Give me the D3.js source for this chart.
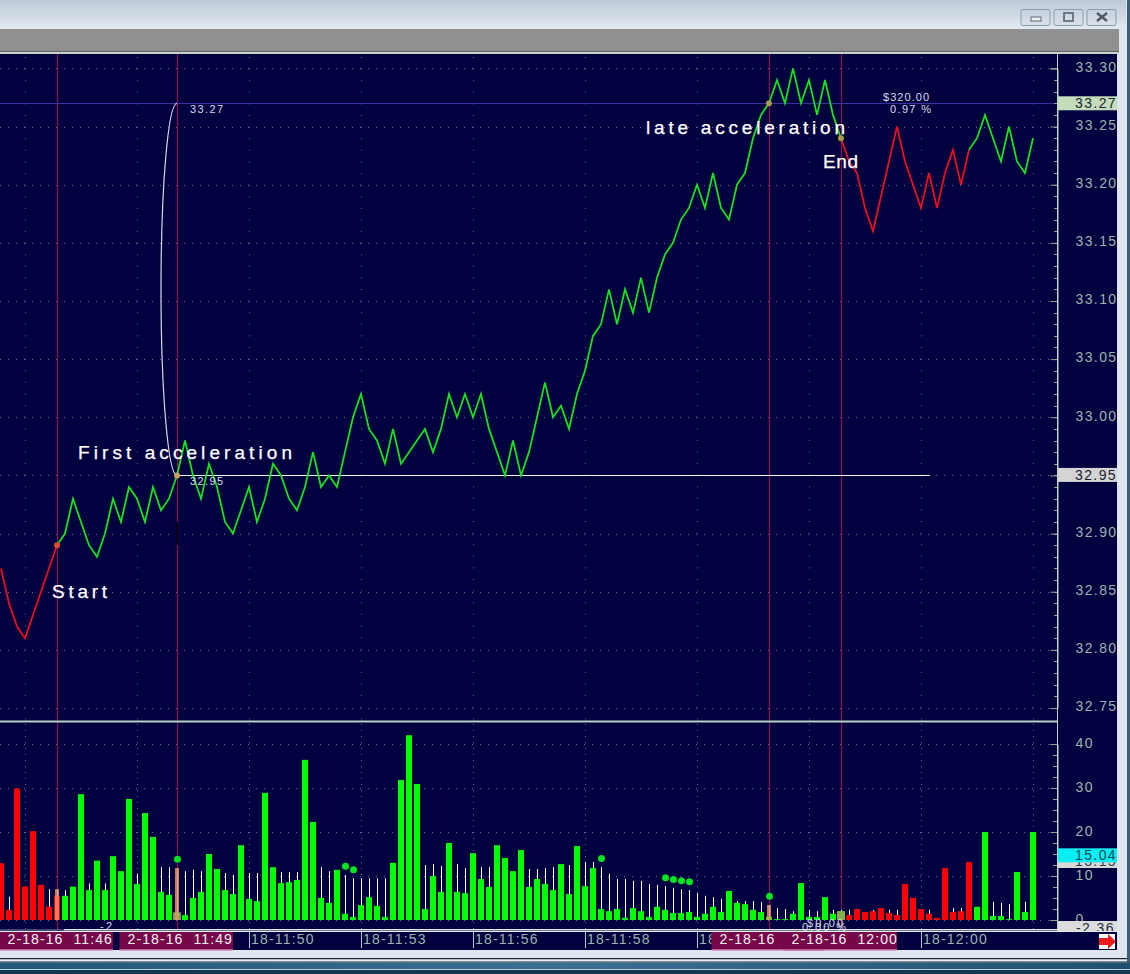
<!DOCTYPE html>
<html>
<head>
<meta charset="utf-8">
<script src="https://cdn.jsdelivr.net/npm/d3@7"></script>
<style>
html, body { margin: 0; padding: 0; background: #1f4a68; overflow: hidden; }
svg { display: block; }
text { font-family: "Liberation Sans", Arial, sans-serif; white-space: pre; }
</style>
</head>
<body>
<svg id="chart"></svg>
<script>
const prices = [
  32.87, 32.84, 32.82, 32.81, 32.83, 32.85, 32.87, 32.89,
  32.90, 32.93, 32.91, 32.89, 32.88, 32.90, 32.93, 32.91, 32.94, 32.93, 32.91, 32.94, 32.92, 32.93,
  32.95, 32.98, 32.95, 32.93, 32.96, 32.94, 32.91, 32.90, 32.92, 32.94, 32.91, 32.93, 32.96, 32.95, 32.93, 32.92, 32.94, 32.97, 32.94, 32.95, 32.94,
  32.97, 33.00, 33.02, 32.99, 32.98, 32.96, 32.99, 32.96, 32.97, 32.98, 32.99, 32.97, 32.99, 33.02, 33.00, 33.02, 33.00, 33.02, 32.99, 32.97, 32.95, 32.98, 32.95, 32.97, 33.00, 33.03, 33.00, 33.01, 32.99, 33.02, 33.04, 33.07, 33.08, 33.11, 33.08, 33.11, 33.09, 33.12, 33.09,
  33.12, 33.14, 33.15, 33.17, 33.18, 33.20, 33.18, 33.21, 33.18, 33.17, 33.20, 33.21, 33.24, 33.26, 33.27,
  33.29, 33.27, 33.30, 33.27, 33.29, 33.26, 33.29, 33.26, 33.24,
  33.22, 33.21, 33.18, 33.16, 33.19, 33.22, 33.25, 33.22, 33.20, 33.18, 33.21, 33.18, 33.21, 33.23, 33.20, 33.23,
  33.24, 33.26, 33.24, 33.22, 33.25, 33.22, 33.21, 33.24
];

const volumes = [
  12.9, 2.3, 29.9, 7.6, 20.2, 8, 3, 5.5,
  5.5, 7.6, 28.6, 6.8, 13.5, 6.8, 14.5, 11.1, 27.5, 8.2, 24.3, 18.9, 6.4, 5.7, 1.7,
  1.1, 5, 6.4, 15, 11.6, 6.8, 5.9, 17, 4.8, 4.3, 28.9, 12, 8.4, 8.6, 9.1, 36.4, 22.3, 5, 3.9, 11.4, 1.4, 0.7, 3.4, 5.2, 3.2,
  0.7, 13, 31.8, 42, 30.9, 2.5, 10, 6.4, 17.5, 6.4, 6.1, 15.2, 9.3, 7.5, 17, 14.1, 11.1, 15.9, 7.5, 9.3, 8.2, 6.8, 12.7, 5.9, 16.8, 7.7, 11.8, 2.5, 2, 2.5, 0.5, 2.7, 2, 0.7, 3, 2.3, 1.6, 1.6, 1.8, 0.7, 1.4, 3, 1.8, 6.6, 3.9, 3.6,
  2.3, 1.8, 0.7, 0.2, 0.2, 1.4, 8.4, 0.7, 0.7, 5.2, 1.4, 2,
  1.1, 2.5, 1.8, 2, 2.7, 1.6, 1.1, 8.2, 5, 2.5, 1.4, 0.5, 11.8, 1.8, 2, 13.2,
  3, 20, 0.9, 0.9, 0.2, 10.9, 1.8, 20
];

// thin white lines above the bars, 0 = none
const whiskers = [
  0, 5.3, 0, 0, 0, 0, 7, 7,
  6.8, 0, 0, 8.3, 0, 8.3, 0, 0, 0, 10.5, 0, 0, 12, 12, 11.8,
  11.1, 11.4, 11.1, 0, 0, 10.7, 10.2, 0, 10.7, 10.7, 0, 0, 10.9, 10.9, 10.9, 0, 0, 12, 11.1, 0, 10.2, 9.5, 9.5, 9.5, 9.5,
  9.5, 0, 0, 0, 0, 12.5, 12.7, 12.3, 0, 12.7, 11.8, 0, 12, 12, 0, 0, 0, 0, 11.6, 11.6, 11.8, 12, 0, 12.5, 0, 13.2, 13.2, 12, 10.5, 9.3, 9.3, 8.9, 8.9, 8.2, 8, 7.7, 7.3, 7, 6.8, 6.1, 5.5, 5.2, 4.8, 0, 4.3, 4.3,
  4.3, 4.1, 3.4, 2.7, 2.5, 2, 0, 2.3, 2, 0, 2.3, 2.3,
  2.3, 0, 0, 2.3, 0, 2.3, 2.3, 0, 0, 2.5, 2.3, 0, 0, 2.7, 2.7, 0,
  3, 0, 4.1, 3.9, 3.6, 0, 4.1, 0
];

const dotIndex = [22, 43, 44, 75, 83, 84, 85, 86, 96];
const dotValue = [13.8, 12.2, 11.4, 14, 9.6, 9.2, 8.9, 8.7, 5.4];

const priceTicks = [32.75, 32.80, 32.85, 32.90, 32.95, 33.00, 33.05, 33.10, 33.15, 33.20, 33.25, 33.30];
const volumeTicks = [0, 10, 20, 30, 40];
const gridIndex = [3, 17, 31, 45, 59, 73, 87, 101, 115, 129];

const timeIndex = [31, 45, 59, 73, 87, 115];
const timeLabels = ["18-11:50", "18-11:53", "18-11:56", "18-11:58", "18", "18-12:00"];

const markIndex = [7, 22, 96, 105];
const markColor = ["#e04a30", "#c8a060", "#a89a50", "#a0a040"];
const markLabels = ["2-18-16  11:46", "2-18-16  11:49", "2-18-16", "2-18-16  12:00"];

const redRanges = [[0, 7], [105, 121]];
const greenRanges = [[7, 105], [121, 129]];

const width = 1130, height = 974;
const plot = {left: 0, right: 1057, top: 54, split: 721, bottom: 930};

const x = d3.scaleLinear().domain([0, 129]).range([1, 1033]);
const yPrice = d3.scaleLinear().domain([32.75, 33.30]).range([708, 68.4]);
const yVol = d3.scaleLinear().domain([0, 40]).range([920, 744]);
const crisp = v => Math.round(v) + 0.5;

const isRed = i => redRanges.some(([a, b]) => i >= a && i <= b && i !== 105);

const svg = d3.select("#chart").attr("width", width).attr("height", height)
    .attr("viewBox", [0, 0, width, height]);

// window chrome
const defs = svg.append("defs");
const titleGrad = defs.append("linearGradient").attr("id", "title").attr("x2", 0).attr("y2", 1);
titleGrad.append("stop").attr("offset", 0).attr("stop-color", "#bccad8");
titleGrad.append("stop").attr("offset", 1).attr("stop-color", "#e2e9f0");
const btnGrad = defs.append("linearGradient").attr("id", "btn").attr("x2", 0).attr("y2", 1);
btnGrad.append("stop").attr("offset", 0).attr("stop-color", "#c4d0dc");
btnGrad.append("stop").attr("offset", 1).attr("stop-color", "#dbe3ea");
const deskGrad = defs.append("linearGradient").attr("id", "desk");
deskGrad.append("stop").attr("offset", 0).attr("stop-color", "#1f5878");
deskGrad.append("stop").attr("offset", 0.5).attr("stop-color", "#3a6f94");
deskGrad.append("stop").attr("offset", 1).attr("stop-color", "#1f5070");

svg.append("rect").attr("width", width).attr("height", height).attr("fill", "#dde6ee");
svg.append("rect").attr("width", 1126).attr("height", 29).attr("fill", "url(#title)");
svg.append("rect").attr("y", 29).attr("width", 1119).attr("height", 23).attr("fill", "#909090");
svg.append("rect").attr("y", 51).attr("width", 1119).attr("height", 1).attr("fill", "#5c6464");
svg.append("rect").attr("y", 52).attr("width", 1119).attr("height", 2).attr("fill", "#c8d4cc");
svg.append("rect").attr("x", 1127).attr("width", 3).attr("height", 974).attr("fill", "#3f5d75");

[[1021, "min"], [1054, "max"], [1087, "close"]].forEach(([bx, kind]) => {
  svg.append("rect").attr("x", bx).attr("y", 9.5).attr("width", 29).attr("height", 16).attr("rx", 2)
      .attr("fill", "url(#btn)").attr("stroke", "#8c9cac");
  if (kind === "min") svg.append("rect").attr("x", bx + 10).attr("y", 17).attr("width", 10).attr("height", 4)
      .attr("fill", "#f0f0f0").attr("stroke", "#606a78");
  if (kind === "max") svg.append("rect").attr("x", bx + 10).attr("y", 13).attr("width", 9).attr("height", 8)
      .attr("fill", "none").attr("stroke", "#505a68").attr("stroke-width", 1.5);
  if (kind === "close") svg.append("path").attr("d", `M${bx + 10},13L${bx + 20},21M${bx + 20},13L${bx + 10},21`)
      .attr("stroke", "#505a68").attr("stroke-width", 2.5);
});

// panel
svg.append("rect").attr("y", plot.top).attr("width", 1117).attr("height", 896).attr("fill", "#01013f");

// bottom strips
svg.append("rect").attr("y", 950).attr("width", 1125).attr("height", 8).attr("fill", "#dfe8f2");
svg.append("rect").attr("y", 958).attr("width", 1127).attr("height", 1.5).attr("fill", "#202830");
svg.append("rect").attr("y", 959.5).attr("width", 1127).attr("height", 2).attr("fill", "#e8eef4");
svg.append("rect").attr("y", 961.5).attr("width", 1127).attr("height", 1).attr("fill", "#202830");
svg.append("rect").attr("y", 962.5).attr("width", 1130).attr("height", 11.5).attr("fill", "url(#desk)");
svg.append("rect").attr("y", 969).attr("width", 1130).attr("height", 1).attr("fill", "#b8d0e0");
svg.append("rect").attr("y", 970).attr("width", 1130).attr("height", 4).attr("fill", "#16384e");

// grid
const grid = svg.append("g").attr("stroke", "#aab0d0").attr("stroke-width", 1).attr("opacity", 0.6);
grid.selectAll(".hp").data(priceTicks).join("line")
    .attr("x1", plot.left).attr("x2", plot.right - 6)
    .attr("y1", d => crisp(yPrice(d))).attr("y2", d => crisp(yPrice(d)))
    .attr("stroke-dasharray", "1 7");
grid.selectAll(".hv").data(volumeTicks).join("line")
    .attr("x1", plot.left).attr("x2", plot.right - 6)
    .attr("y1", d => crisp(yVol(d))).attr("y2", d => crisp(yVol(d)))
    .attr("stroke-dasharray", "1 7");
grid.selectAll(".vp").data(gridIndex).join("line")
    .attr("x1", d => x(d) + 0.5).attr("x2", d => x(d) + 0.5)
    .attr("y1", plot.top + 3).attr("y2", plot.split)
    .attr("stroke-dasharray", "1 10.6");
grid.selectAll(".vv").data(gridIndex).join("line")
    .attr("x1", d => x(d) + 0.5).attr("x2", d => x(d) + 0.5)
    .attr("y1", plot.split + 3).attr("y2", plot.bottom)
    .attr("stroke-dasharray", "1 5");

// vertical markers
svg.append("g").selectAll("line").data(markIndex).join("line")
    .attr("x1", d => x(d) + 0.5).attr("x2", d => x(d) + 0.5)
    .attr("y1", plot.top).attr("y2", plot.bottom)
    .attr("stroke", "#8c1050").attr("stroke-width", 1.2);

// volume whiskers and bars
svg.append("g").selectAll("line").data(whiskers).join("line")
    .attr("x1", (d, i) => x(i) + 0.5).attr("x2", (d, i) => x(i) + 0.5)
    .attr("y1", yVol(0)).attr("y2", d => yVol(d))
    .attr("stroke", d => d ? "#ffffff" : "none").attr("stroke-width", 1);

svg.append("g").selectAll("rect").data(volumes).join("rect")
    .attr("x", (d, i) => x(i) - 3).attr("width", 6)
    .attr("y", d => yVol(d)).attr("height", d => yVol(0) - yVol(d))
    .attr("fill", (d, i) => isRed(i) ? "#ff0000" : "#00ff00");

// marker overlays on the volume bars
svg.append("rect").attr("x", x(105) - 4).attr("width", 8)
    .attr("y", yVol(volumes[105])).attr("height", yVol(0) - yVol(volumes[105]))
    .attr("fill", "#80b048");
svg.append("rect").attr("x", x(22) - 4).attr("width", 8)
    .attr("y", yVol(volumes[22])).attr("height", yVol(0) - yVol(volumes[22]))
    .attr("fill", "#70a848");
svg.append("g").selectAll("rect").data(markIndex.slice(0, 3)).join("rect")
    .attr("x", d => x(d) - 2).attr("width", 4)
    .attr("y", d => yVol(whiskers[d])).attr("height", d => yVol(0) - yVol(whiskers[d]))
    .attr("fill", "#e8926a").attr("opacity", 0.85);

svg.append("g").selectAll("circle").data(dotIndex).join("circle")
    .attr("cx", d => x(d) + 0.5).attr("cy", (d, i) => yVol(dotValue[i])).attr("r", 3.5)
    .attr("fill", "#00e61e");

// split line and bottom line
svg.append("rect").attr("y", plot.split - 0.5).attr("width", plot.right).attr("height", 2).attr("fill", "#b4d4c0");
svg.append("rect").attr("x", 64).attr("y", 929).attr("width", plot.right - 64).attr("height", 1.5).attr("fill", "#e0e8e8");
svg.append("rect").attr("y", 929.5).attr("width", 64).attr("height", 1).attr("fill", "#8890b0");

// reference lines
svg.append("line").attr("x1", 0).attr("x2", plot.right)
    .attr("y1", crisp(yPrice(33.27))).attr("y2", crisp(yPrice(33.27)))
    .attr("stroke", "#3c30a0").attr("stroke-width", 1);
svg.append("line").attr("x1", x(22)).attr("x2", 930)
    .attr("y1", crisp(yPrice(32.95))).attr("y2", crisp(yPrice(32.95)))
    .attr("stroke", "#f4f8f4").attr("stroke-width", 1);

// measuring arc
const arcTop = yPrice(33.27), arcBottom = yPrice(32.95);
svg.append("path")
    .attr("d", `M${x(22)},${arcTop}A16,${(arcBottom - arcTop) / 2} 0 0 0 ${x(22)},${arcBottom}`)
    .attr("fill", "none").attr("stroke", "#d8d8ec").attr("stroke-width", 1.2);

svg.append("rect").attr("x", x(22) - 1).attr("y", 522).attr("width", 2).attr("height", 23).attr("fill", "#05050f");

// price line
const line = d3.line().x(d => x(d)).y(d => yPrice(prices[d]));
const drawRanges = (ranges, color) => ranges.forEach(([a, b]) => {
  svg.append("path").datum(d3.range(a, b + 1))
      .attr("fill", "none").attr("stroke", color).attr("stroke-width", 1.8)
      .attr("stroke-linejoin", "miter").attr("d", line);
});
drawRanges(redRanges, "#e8101c");
drawRanges(greenRanges, "#19e01c");

svg.append("g").selectAll("circle").data(markIndex).join("circle")
    .attr("cx", d => x(d)).attr("cy", d => yPrice(prices[d])).attr("r", 3)
    .attr("fill", (d, i) => markColor[i]);

// annotations
const notes = [
  {t: "First acceleration", x: 78, y: 459, w: 214},
  {t: "Start", x: 52, y: 598, w: 55},
  {t: "late acceleration", x: 646, y: 134, w: 199},
  {t: "End", x: 823, y: 168, w: 35}
];
svg.append("g").selectAll("text").data(notes).join("text")
    .attr("x", d => d.x).attr("y", d => d.y).attr("textLength", d => d.w).attr("lengthAdjust", "spacing")
    .attr("fill", "#ffffff").attr("stroke", "#ffffff").attr("stroke-width", 0.25)
    .attr("font-size", 19).text(d => d.t);

const smalls = [
  {t: "33.27", x: 190, y: 113, w: 33},
  {t: "32.95", x: 190, y: 485, w: 33},
  {t: "$320.00", x: 883, y: 101, w: 46},
  {t: "0.97 %", x: 890, y: 113, w: 41},
  {t: "-2", x: 100, y: 930, w: 12},
  {t: "$0.00", x: 807, y: 927, w: 36},
  {t: "0.00 %", x: 802, y: 931, w: 44}
];
svg.append("g").selectAll("text").data(smalls).join("text")
    .attr("x", d => d.x).attr("y", d => d.y).attr("textLength", d => d.w).attr("lengthAdjust", "spacing")
    .attr("fill", "#d8dce8").attr("font-size", 11).text(d => d.t);

// right axes
const axisColor = "#9cb4ac";
const styleAxis = (g, dy) => {
  g.select(".domain").attr("stroke", "#c0d4c8").attr("stroke-width", 1);
  g.selectAll(".tick line").attr("stroke", "#8ea49a");
  g.selectAll(".tick text").attr("fill", axisColor).attr("font-size", 14).attr("dy", dy)
      .attr("font-family", "Liberation Sans").style("letter-spacing", "1.4px");
};

svg.append("g").attr("transform", `translate(${plot.right + 0.5},0)`)
    .call(d3.axisRight(yPrice).tickValues(priceTicks).tickSize(-7).tickPadding(18).tickFormat(d3.format(".2f")))
    .call(styleAxis, "0.2em");
svg.append("g").attr("transform", `translate(${plot.right + 0.5},0)`)
    .call(d3.axisRight(yVol).tickValues(volumeTicks).tickSize(-7).tickPadding(18).tickFormat(d3.format("d")))
    .call(styleAxis, "0.28em");

// minor ticks
const minorTicks = svg.append("g").attr("stroke", "#8ea49a");
minorTicks.selectAll(".mp").data(d3.range(32.75, 33.305, 0.01)).join("line")
    .attr("x1", plot.right - 3).attr("x2", plot.right)
    .attr("y1", d => crisp(yPrice(d))).attr("y2", d => crisp(yPrice(d)));
minorTicks.selectAll(".mv").data(d3.range(0, 42.5, 2.5)).join("line")
    .attr("x1", plot.right - 4).attr("x2", plot.right)
    .attr("y1", d => crisp(yVol(d))).attr("y2", d => crisp(yVol(d)));

svg.append("line").attr("x1", plot.right + 0.5).attr("x2", plot.right + 0.5).attr("y1", plot.top).attr("y2", plot.bottom + 1)
    .attr("stroke", "#c0d4c8");

// value flags on the axis
const flags = [
  {t: "33.27", y: yPrice(33.27), h: 14, bg: "#c4dcbc", fg: "#1a2a30"},
  {t: "32.95", y: yPrice(32.95) - 0.5, h: 14, bg: "#d4d4d4", fg: "#1a2030"},
  {t: "13.15", y: 861, h: 14, bg: "#d8d8d8", fg: "#304050"},
  {t: "15.04", y: yVol(15.04) + 1.5, h: 14, bg: "#08eef2", fg: "#104858"}
];
flags.forEach(f => {
  svg.append("rect").attr("x", plot.right + 1).attr("y", f.y - f.h / 2).attr("width", 59).attr("height", f.h).attr("fill", f.bg);
  svg.append("text").attr("x", plot.right + 18).attr("y", f.y + 5).attr("fill", f.fg).attr("font-size", 14)
      .style("letter-spacing", "1.4px").text(f.t);
});

const clip = defs.append("clipPath").attr("id", "lowFlag");
clip.append("rect").attr("x", plot.right + 1).attr("y", 921).attr("width", 59).attr("height", 10);
svg.append("rect").attr("x", plot.right + 1).attr("y", 921).attr("width", 59).attr("height", 10).attr("fill", "#dcdcdc");
svg.append("text").attr("clip-path", "url(#lowFlag)").attr("x", plot.right + 19).attr("y", 933)
    .attr("fill", "#203040").attr("font-size", 14).style("letter-spacing", "1.4px").text("-2.36");

// time bar
svg.append("rect").attr("y", plot.bottom + 1).attr("width", 1117).attr("height", 1).attr("fill", "#e4ecec");

svg.append("g").selectAll("line").data(timeIndex).join("line")
    .attr("x1", d => x(d) + 0.5).attr("x2", d => x(d) + 0.5).attr("y1", 932).attr("y2", 948)
    .attr("stroke", "#b8c4c4");
svg.append("g").selectAll("text").data(timeIndex).join("text")
    .attr("x", d => x(d) + 2).attr("y", 944).attr("fill", axisColor).attr("font-size", 14)
    .style("letter-spacing", "1.2px").text((d, i) => timeLabels[i]);

const boxes = svg.append("g").selectAll("g").data(markIndex).join("g")
    .attr("transform", d => `translate(${x(d) - 57.5},932)`);
boxes.append("rect").attr("width", 113.5).attr("height", 18).attr("fill", "#76084a");
boxes.append("rect").attr("y", 17).attr("width", 113.5).attr("height", 1.5).attr("fill", "#c0609a");
boxes.append("text").attr("x", 8).attr("y", 11.5).attr("fill", "#f4f0f4").attr("font-size", 14)
    .style("letter-spacing", "1.1px").text((d, i) => markLabels[i]);

// scroll arrow
svg.append("rect").attr("x", 1099).attr("y", 934).attr("width", 16).attr("height", 15).attr("fill", "#ffffff");
svg.append("path").attr("d", "M1099,938H1108V934L1116,941.5L1108,949V945H1099Z").attr("fill", "#ee1c1c");
</script>
</body>
</html>
